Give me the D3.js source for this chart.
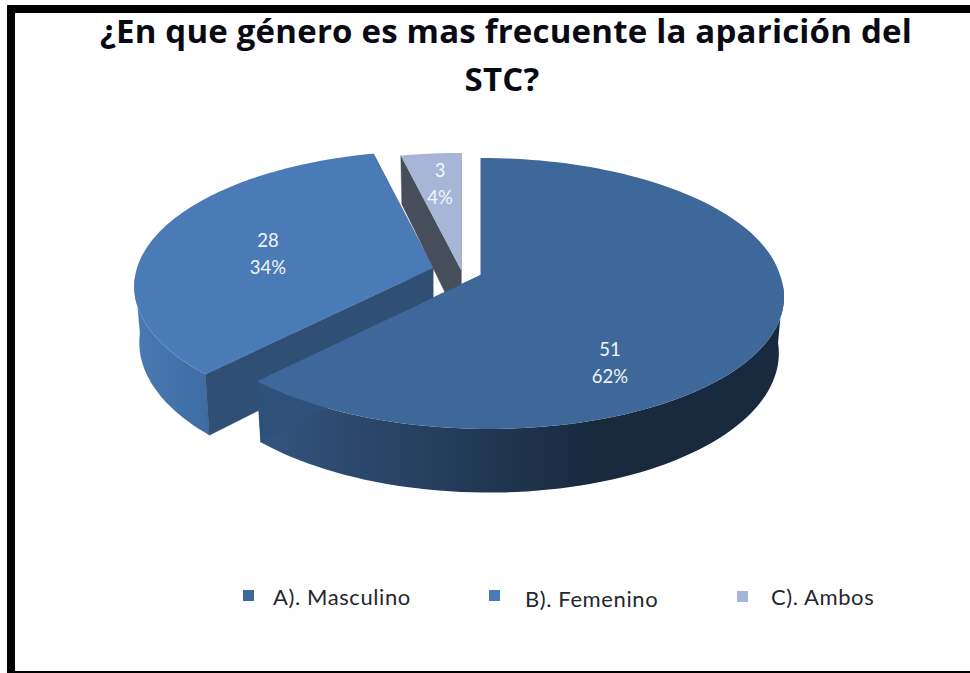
<!DOCTYPE html>
<html>
<head>
<meta charset="utf-8">
<script src="https://cdn.jsdelivr.net/npm/d3@7"></script>
<style>
html,body{margin:0;padding:0;background:#fff;overflow:hidden}
svg{display:block}
text{font-family:Lato,"Open Sans",sans-serif}
</style>
</head>
<body>
<svg id="c" width="970" height="673"></svg>
<script>
const titleLines = ["¿En que género es mas frecuente la aparición del", "STC?"];
const categories = ["A). Masculino", "B). Femenino", "C). Ambos"];
const values = [51, 28, 3];

const topColors = ["#3e6899", "#4a7bb6", "#a7b6d6"];
const cutColors = ["#2f5078", "#2f4f75", "#474d5b"];
const wallStart = ["#33557f", "#4a79b3", "#8f9dbb"];
const wallEnd = ["#192a3f", "#3e6ca3", "#8f9dbb"];
const wallX = [[258, 590], [135, 208], [402, 461]];
const apexes = [[481, 275], [433, 268], [461, 270]];
const discScale = [1, 0.99, 1];
const discShear = [8, 0, 0];
const labelPos = [[610, 350], [268, 241], [440, 171]];
const legendMarkX = [243, 489, 737];
const legendMarkY = [590, 590, 591];
const legendTextX = [273, 525, 771];
const legendTextY = [605, 607, 605];

const svg = d3.select("#c");
const K = 0.136, RX = 299, RY = 133, DEPTH = 55, SHRINK = 0.983;

// Frame
svg.append("rect").attr("x", 7).attr("y", 5).attr("width", 963).attr("height", 8).attr("fill", "#000");
svg.append("rect").attr("x", 7).attr("y", 5).attr("width", 8).attr("height", 668).attr("fill", "#000");
svg.append("rect").attr("x", 7).attr("y", 671).attr("width", 963).attr("height", 2).attr("fill", "#000");

// Title
svg.selectAll("text.title").data(titleLines).join("text")
  .attr("class", "title")
  .attr("x", (d, i) => i === 0 ? 506 : 502)
  .attr("y", (d, i) => i === 0 ? 43 : 91)
  .attr("text-anchor", "middle")
  .style("font-family", "'Open Sans',sans-serif")
  .attr("font-size", 33)
  .attr("letter-spacing", 0.2)
  .attr("font-weight", 700)
  .attr("fill", "#0a0a14")
  .text(d => d);

// Tilted-disc projection of a pie angle (clockwise from 12 o'clock)
function rim(angle, i, low) {
  const apex = apexes[i];
  const u = Math.sin(angle), v = -Math.cos(angle);
  const s = 1 / (1 - K * v);
  const sx = (low ? SHRINK : 1) * discScale[i];
  return [apex[0] + (RX * u * s + discShear[i] * Math.max(v, 0)) * sx,
          apex[1] + RY * v * s + (low ? DEPTH * s : 0)];
}
const line = d3.line();
const pie = d3.pie().sort(null).value(d => d);
const arcs = pie(values);
const defs = svg.append("defs");

arcs.forEach((a, i) => {
  const g = defs.append("linearGradient").attr("id", "w" + i)
    .attr("gradientUnits", "userSpaceOnUse")
    .attr("x1", wallX[i][0]).attr("x2", wallX[i][1]).attr("y1", 0).attr("y2", 0);
  g.append("stop").attr("offset", 0).attr("stop-color", wallStart[i]);
  g.append("stop").attr("offset", 1).attr("stop-color", wallEnd[i]);
});

// Painted back to front
[2, 1, 0].forEach(i => {
  const a = arcs[i], apex = apexes[i];
  const angles = d3.range(0, 121).map(t => a.startAngle + (a.endAngle - a.startAngle) * t / 120);
  const top = angles.map(t => rim(t, i, false));
  const low = angles.map(t => rim(t, i, true));
  const apexLow = [apex[0], apex[1] + DEPTH];
  const layer = svg.append("g");
  // outer wall: only the camera-facing part of the rim
  const front = angles.filter(t => -Math.cos(t) >= K * 0.5);
  if (front.length > 1) {
    const ft = front.map(t => rim(t, i, false));
    const fl = front.map(t => rim(t, i, true));
    layer.append("path")
      .attr("d", line(ft.concat(fl.slice().reverse())) + "Z")
      .attr("fill", `url(#w${i})`);
  }
  [[top[0], low[0]], [top[120], low[120]]].forEach(e => {
    layer.append("path")
      .attr("d", line([apex, e[0], e[1], apexLow]) + "Z")
      .attr("fill", cutColors[i]).attr("stroke", cutColors[i]).attr("stroke-width", 0.5);
  });
  layer.append("path")
    .attr("d", line([apex].concat(top)) + "Z")
    .attr("fill", topColors[i]);
});

// Data labels
const pct = d3.format(".0%");
const total = d3.sum(values);
values.forEach((v, i) => {
  const t = svg.append("g").attr("fill", "#f2f5fa").attr("font-size", 18.5).attr("text-anchor", "middle");
  t.append("text").attr("x", labelPos[i][0]).attr("y", labelPos[i][1] + 6).text(v);
  t.append("text").attr("x", labelPos[i][0]).attr("y", labelPos[i][1] + 33).text(pct(v / total));
});

// Legend
categories.forEach((c, i) => {
  svg.append("rect").attr("x", legendMarkX[i]).attr("y", legendMarkY[i])
    .attr("width", 11).attr("height", 11).attr("fill", topColors[i]);
  svg.append("text").attr("x", legendTextX[i]).attr("y", legendTextY[i])
    .attr("font-size", 22).attr("letter-spacing", 0.6).attr("fill", "#26262e").text(c);
});
</script>
</body>
</html>
